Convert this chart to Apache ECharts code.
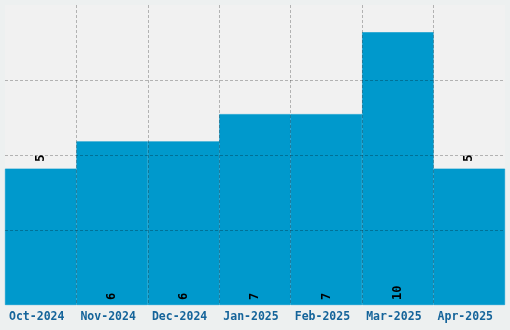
<!DOCTYPE html>
<html>
<head>
<meta charset="utf-8">
<script src="https://cdn.jsdelivr.net/npm/echarts@6/dist/echarts.min.js"></script>
<style>
html,body{margin:0;padding:0;background:#edf0f0;}
#c{width:510px;height:330px;}
</style>
</head>
<body>
<div id="c"></div>
<script>
const categories = ['Oct-2024','Nov-2024','Dec-2024','Jan-2025','Feb-2025','Mar-2025','Apr-2025'];
const values = [5, 6, 6, 7, 7, 10, 5];
const labelOnTop = [true, false, false, false, false, false, true];

const chart = echarts.init(document.getElementById('c'), null, {renderer: 'canvas'});
const gridLine = {show: true, interval: 0, showMinLine: false, showMaxLine: false, lineStyle: {color: 'rgba(0,0,0,0.26)', type: [3, 2], width: 1}};
chart.setOption({
  backgroundColor: '#edf0f0',
  animation: false,
  grid: {left: 5, right: 5, top: 5, bottom: 25, show: true, backgroundColor: '#f1f1f1', borderWidth: 0},
  xAxis: {
    type: 'category', data: categories, z: 5,
    axisLine: {show: false}, axisTick: {show: false},
    axisLabel: {interval: 0, color: '#15649a', fontFamily: 'DejaVu Sans Mono', fontWeight: 'bold', fontSize: 11.5, margin: 6, padding: [0, 8, 0, 0]},
    splitLine: gridLine
  },
  yAxis: {
    type: 'value', min: 0, max: 11, interval: 2.75, z: 5,
    axisLine: {show: false}, axisTick: {show: false}, axisLabel: {show: false},
    splitLine: gridLine
  },
  series: [{
    type: 'bar', barCategoryGap: 0,
    itemStyle: {color: '#0099cc', borderColor: '#0099cc', borderWidth: 0.6},
    data: values.map((v, i) => ({
      value: v,
      label: {
        show: true, rotate: 90, align: 'left', verticalAlign: 'middle',
        position: labelOnTop[i] ? 'top' : 'insideBottom',
        distance: labelOnTop[i] ? 7 : 5,
        color: '#000', fontFamily: 'DejaVu Sans Mono', fontWeight: 'bold', fontSize: 12
      }
    }))
  }]
});
</script>
</body>
</html>
